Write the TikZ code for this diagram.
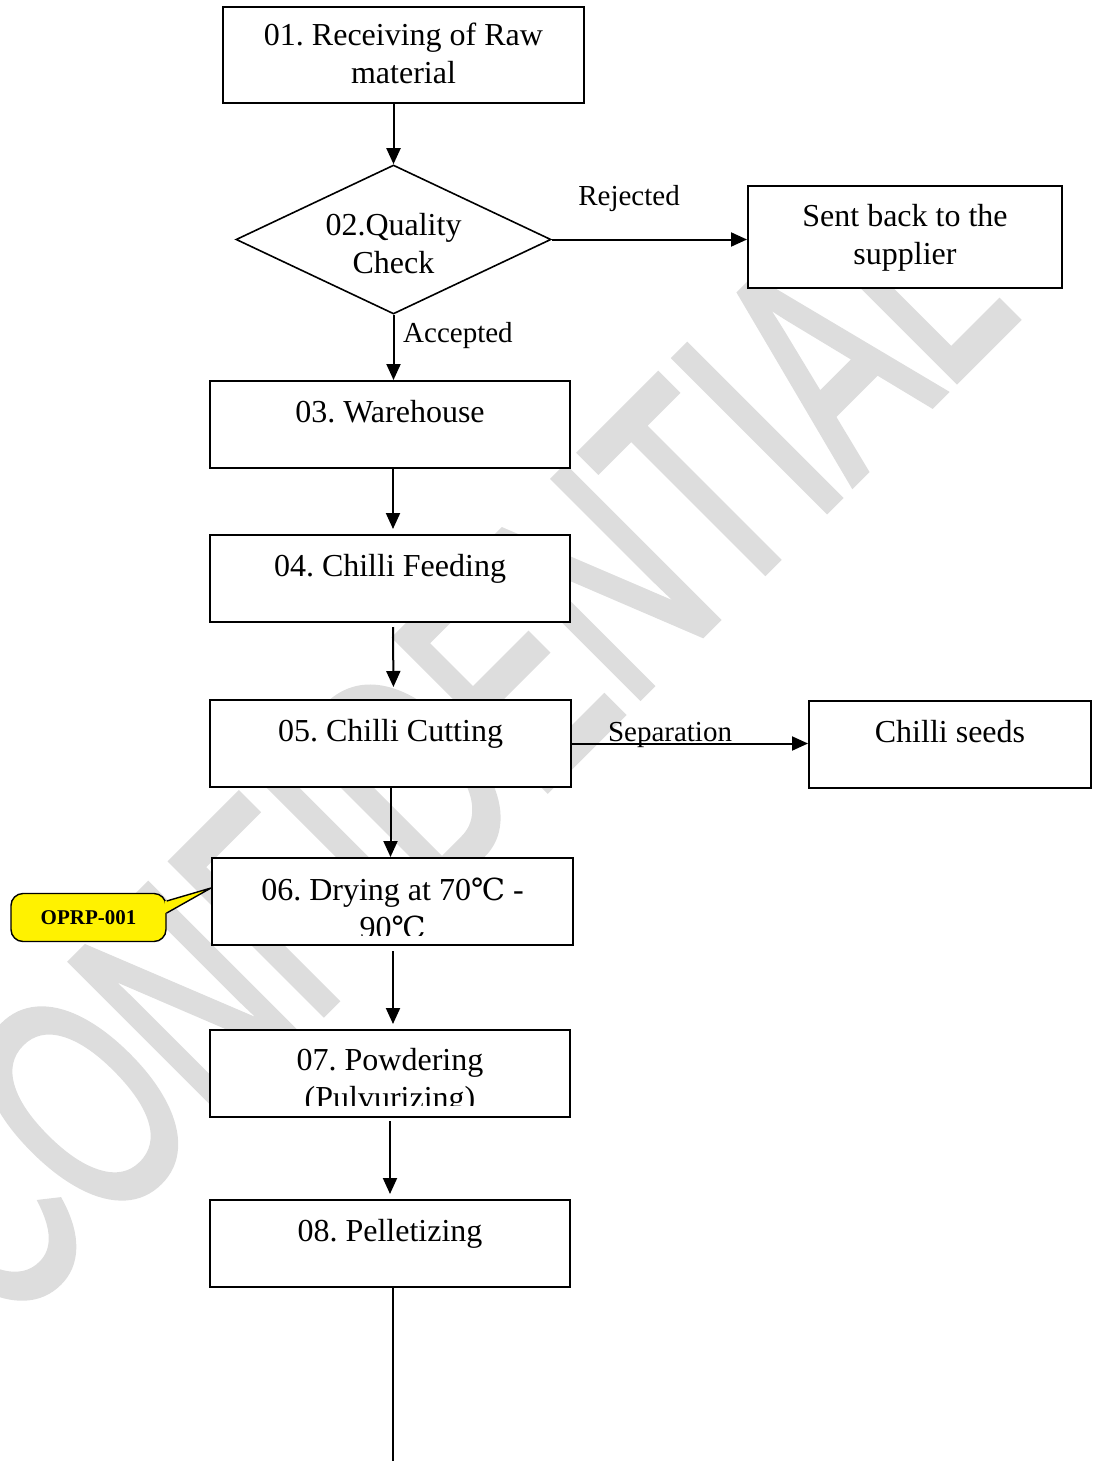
\documentclass[tikz,border=0pt]{standalone}
\usepackage{fontspec}
\setmainfont{Liberation Serif}
\newfontfamily\wmfont[FakeBold=2.5]{Liberation Sans}
\newfontfamily\symfont[Scale=0.95]{DejaVu Serif}
\usetikzlibrary{shapes.geometric,arrows.meta}
\definecolor{wmgray}{RGB}{221,221,221}
\newcommand\degC{{\symfont ℃}}
\frenchspacing
\begin{document}
\begin{tikzpicture}[x=1pt,y=-1pt,
  box/.style={draw, fill=white, line width=2pt, rectangle, inner sep=0pt},
  txt/.style={font=\fontsize{32}{38}\selectfont, inner sep=0pt, align=center, anchor=base},
  lbl/.style={font=\fontsize{29}{34}\selectfont, inner sep=0pt, anchor=base},
  arr/.style={line width=2pt, -{Triangle[length=16pt,width=14pt]}},
  plain/.style={line width=2pt},
]
\useasboundingbox (0,0) rectangle (1095,1461);
% watermark
\begin{scope}
\clip (0,0) rectangle (1095,1461);
\node[text=wmgray, rotate=45, anchor=base east, inner sep=0pt,
      font=\wmfont\fontsize{310}{310}\selectfont] (wm) at (1022,314)
      {\scalebox{0.634}[1]{CONFIDENTIAL}};
\end{scope}

% boxes
\node[box, minimum width=361pt, minimum height=96pt] (b01) at (403.5,55) {};
\node[txt] (t01) at (403.5,84) {01. Receiving of Raw\\material};

\node[draw, fill=white, diamond, line width=1.6pt, minimum width=315pt, minimum height=149pt, inner sep=0pt] (q) at (393.5,239.5) {};
\node[txt] (tq) at (393.5,273) {02.Quality\\Check};

\node[box, minimum width=314pt, minimum height=102pt] (sb) at (905,237) {};
\node[txt] (tsb) at (905,264) {Sent back to the\\supplier};

\node[box, minimum width=360pt, minimum height=87pt] (b03) at (390,424.5) {};
\node[txt] (t03) at (390,422) {03. Warehouse};

\node[box, minimum width=360pt, minimum height=87pt] (b04) at (390,578.5) {};
\node[txt] (t04) at (390,576) {04. Chilli Feeding};

\node[box, minimum width=361pt, minimum height=87pt] (b05) at (390.5,743.5) {};
\node[txt] (t05) at (390.5,741) {05. Chilli Cutting};

\node[box, minimum width=282pt, minimum height=87pt] (seeds) at (950,744.5) {};
\node[txt] (tseeds) at (950,742) {Chilli seeds};

\node[box, minimum width=361pt, minimum height=87pt] (b06) at (392.5,901.5) {};
\begin{scope}
\clip (b06.north west) rectangle ([yshift=11pt]b06.south east);
\node[txt] (t06) at (392.5,938) {06. Drying at 70\degC{} -\\90\degC};
\end{scope}

\node[box, minimum width=360pt, minimum height=87pt] (b07) at (390,1073.5) {};
\begin{scope}
\clip (b07.north west) rectangle ([yshift=13pt]b07.south east);
\node[txt] (t07) at (390,1108) {07. Powdering\\(Pulvurizing)};
\end{scope}

\node[box, minimum width=360pt, minimum height=87pt] (b08) at (390,1243.5) {};
\node[txt] (t08) at (390,1241) {08. Pelletizing};

% callout
\node[draw, line width=1.4pt, fill=yellow, rounded corners=12pt, minimum width=155pt, minimum height=48pt, inner sep=0pt,
      font=\bfseries\fontsize{21}{21}\selectfont] (op) at (88.5,917.5) {OPRP-001};
\coordinate (p1) at ([yshift=16.5pt]op.east);
\coordinate (p2) at ([yshift=4.5pt]op.east);
\coordinate (tip) at ([yshift=13.5pt]b06.west);
\fill[yellow] ([xshift=-1.6pt]p1) -- (tip) -- ([xshift=-1.6pt]p2) -- cycle;
\draw[line width=1.4pt, line join=round] (p1) -- (tip) -- (p2);

% connectors
\draw[arr] (q.north |- b01.south) -- (q.north);
\draw[arr] (q.east) -- (q.east -| sb.west);
\node[lbl] (rej) at (629,205) {Rejected};
\draw[arr] (q.south) -- (q.south |- b03.north);
\node[lbl, anchor=base west] (acc) at (403,342) {Accepted};
\draw[arr, shorten >=5pt] ([xshift=3pt]b03.south) -- ([xshift=3pt]b04.north);
\draw[arr, shorten <=4pt, shorten >=12pt] ([xshift=3pt]b04.south) -- ([xshift=3pt]b05.north);
\draw[arr] (b05.south) -- (b06.north -| b05.south);
\draw[arr] (b05.east) -- (b05.east -| seeds.west);
\node[lbl] (sep) at (670,741) {Separation};
\draw[arr, shorten <=5pt, shorten >=5pt] ([xshift=0.5pt]b06.south) -- ([xshift=3pt]b07.north);
\draw[arr, shorten <=3pt, shorten >=5pt] (b07.south) -- (b08.north);
\coordinate (end) at (393,1461);
\draw[plain] ([xshift=3pt]b08.south) -- (end);
\end{tikzpicture}
\end{document}
